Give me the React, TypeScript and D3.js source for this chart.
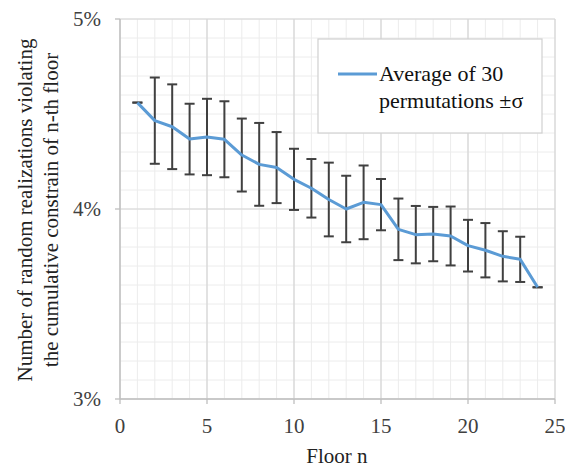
import React from "react";
import * as d3 from "d3";

const floors = [1, 2, 3, 4, 5, 6, 7, 8, 9, 10, 11, 12, 13, 14, 15, 16, 17, 18, 19, 20, 21, 22, 23, 24];
const means = [4.56, 4.465, 4.433, 4.368, 4.379, 4.367, 4.284, 4.235, 4.218, 4.156, 4.109, 4.05, 4.0, 4.035, 4.023, 3.893, 3.865, 3.868, 3.858, 3.807, 3.783, 3.751, 3.735, 3.588];
const sigmas = [0, 0.227, 0.223, 0.186, 0.201, 0.2, 0.192, 0.218, 0.187, 0.161, 0.154, 0.194, 0.175, 0.194, 0.135, 0.162, 0.151, 0.143, 0.155, 0.136, 0.143, 0.132, 0.119, 0];
const xTicks = [0, 5, 10, 15, 20, 25];
const yTicks = [3, 4, 5];
const legendLines = ["Average of 30", "permutations \u00b1\u03c3"];
const xTitle = "Floor n";
const yTitleLines = ["Number of random realizations violating", "the cumulative constrain of n-th floor"];

const W = 565;
const H = 470;
const left = 120, right = 555, top = 19, bottom = 399;

export default function App() {
  const x = d3.scaleLinear().domain([0, 25]).range([left, right]);
  const y = d3.scaleLinear().domain([3, 5]).range([bottom, top]);
  const minorX = d3.range(0, 25.001, 1);
  const minorY = d3.range(3, 5.0001, 0.1);
  const line = d3
    .line<number>()
    .x((_, i) => x(floors[i]))
    .y((d) => y(d));
  const capHalf = 5;
  return (
    <svg width={W} height={H} style={{ position: "absolute", left: 0, top: 0 }}>
      <rect x={0} y={0} width={W} height={H} fill="#fff" />
      {minorX.map((v) => (
        <line key={"mx" + v} x1={x(v)} x2={x(v)} y1={top} y2={bottom} stroke="#ececec" strokeWidth={1} />
      ))}
      {minorY.map((v) => (
        <line key={"my" + v} x1={left} x2={right} y1={y(v)} y2={y(v)} stroke="#ececec" strokeWidth={1} />
      ))}
      {xTicks.map((v) => (
        <line key={"Mx" + v} x1={x(v)} x2={x(v)} y1={top} y2={bottom} stroke="#d6d6d6" strokeWidth={1.2} />
      ))}
      {yTicks.map((v) => (
        <line key={"My" + v} x1={left} x2={right} y1={y(v)} y2={y(v)} stroke="#d6d6d6" strokeWidth={1.2} />
      ))}
      <line x1={left} x2={left} y1={top} y2={bottom} stroke="#bfbfbf" strokeWidth={1.3} />
      <line x1={left} x2={right} y1={bottom} y2={bottom} stroke="#bfbfbf" strokeWidth={1.3} />
      {xTicks.map((v) => (
        <line key={"tx" + v} x1={x(v)} x2={x(v)} y1={bottom} y2={bottom + 5} stroke="#bfbfbf" strokeWidth={1.3} />
      ))}
      {yTicks.map((v) => (
        <line key={"ty" + v} x1={left - 5} x2={left} y1={y(v)} y2={y(v)} stroke="#bfbfbf" strokeWidth={1.3} />
      ))}
      {xTicks.map((v) => (
        <text key={"lx" + v} x={x(v)} y={433} textAnchor="middle" fontSize={21} fill="#404040">
          {String(v)}
        </text>
      ))}
      {yTicks.map((v) => (
        <text key={"ly" + v} x={101} y={y(v) + 7} textAnchor="end" fontSize={21} fill="#404040">
          {v + "%"}
        </text>
      ))}
      {means.map((m, i) => {
        const cx = x(floors[i]);
        const s = sigmas[i];
        return (
          <g key={"e" + i} stroke="#404040" strokeWidth={2}>
            <line x1={cx} x2={cx} y1={y(m + s)} y2={y(m - s)} />
            <line x1={cx - capHalf} x2={cx + capHalf} y1={y(m + s)} y2={y(m + s)} />
            <line x1={cx - capHalf} x2={cx + capHalf} y1={y(m - s)} y2={y(m - s)} />
          </g>
        );
      })}
      <path d={line(means) || ""} fill="none" stroke="#5b9bd5" strokeWidth={3} strokeLinejoin="round" />
      <rect x={318} y={39} width={224} height={94} fill="#fff" stroke="#d0d0d0" strokeWidth={1.2} />
      <line x1={338} x2={377} y1={74} y2={74} stroke="#5b9bd5" strokeWidth={3} />
      {legendLines.map((t, i) => (
        <text key={"lg" + i} x={379} y={81 + i * 27} fontSize={22} fill="#111">
          {t}
        </text>
      ))}
      <text x={337} y={463} textAnchor="middle" fontSize={21} fill="#222">
        {xTitle}
      </text>
      {yTitleLines.map((t, i) => (
        <text
          key={"yt" + i}
          transform={`translate(${32 + i * 26},${210}) rotate(-90)`}
          textAnchor="middle"
          fontSize={21}
          fill="#222"
        >
          {t}
        </text>
      ))}
    </svg>
  );
}
